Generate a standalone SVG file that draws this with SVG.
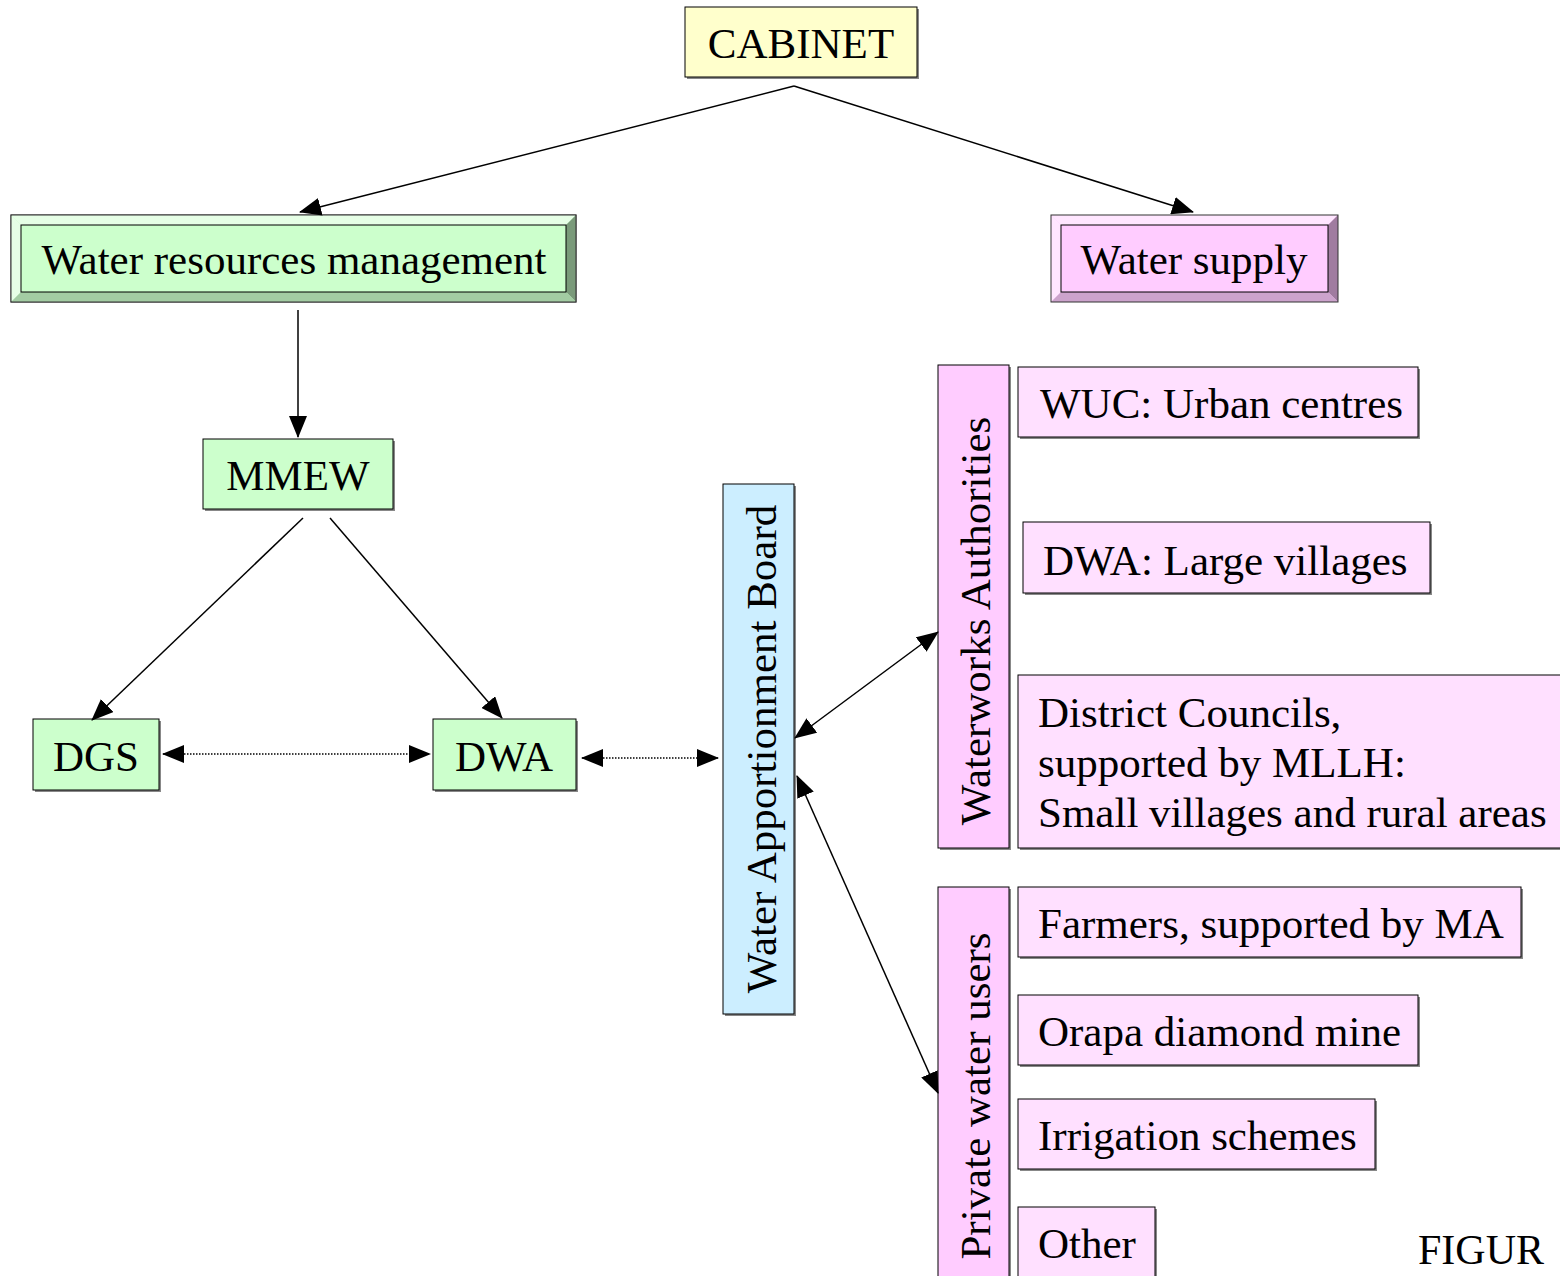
<svg xmlns="http://www.w3.org/2000/svg" width="1560" height="1276" viewBox="0 0 1560 1276">
<style>
text{font-family:"Liberation Serif","Times New Roman",serif;font-size:43px;fill:#000}
.c{text-anchor:middle}
.box{stroke:#000;stroke-width:1}
.sh{fill:#888}
.ln{stroke:#000;stroke-width:1.5;fill:none}
.dot{stroke:#000;stroke-width:1.5;fill:none;stroke-dasharray:1.5 1.5}
</style>
<defs>
<marker id="ah" markerWidth="22" markerHeight="18" refX="21" refY="9" orient="auto-start-reverse" markerUnits="userSpaceOnUse">
<path d="M0,0 L22,9 L0,18 z" fill="#000"/>
</marker>
</defs>
<rect width="1560" height="1276" fill="#fff"/>

<g id="cabinet">
<rect x="687" y="9" width="232" height="70" class="sh"/>
<rect x="685" y="7" width="232" height="70" fill="#ffffcc" class="box"/>
<text x="801" y="58" class="c">CABINET</text>
</g>

<g id="wrm">
<rect x="11" y="215" width="565" height="87" fill="#ccffcc" stroke="#333" stroke-width="1"/>
<polygon points="11,215 576,215 566,225 21,225" fill="#e6ffe6"/>
<polygon points="11,215 21,225 21,292 11,302" fill="#e6ffe6"/>
<polygon points="576,215 576,302 566,292 566,225" fill="#7a9a7a"/>
<polygon points="11,302 576,302 566,292 21,292" fill="#a3cca3"/>
<rect x="11" y="215" width="565" height="87" fill="none" stroke="#333" stroke-width="1"/>
<rect x="21" y="225" width="545" height="67" fill="none" stroke="#000" stroke-width="1"/>
<text x="294" y="274" class="c">Water resources management</text>
</g>

<g id="supply">
<rect x="1051" y="215" width="287" height="87" fill="#ffccff"/>
<polygon points="1051,215 1338,215 1328,225 1061,225" fill="#ffe6ff"/>
<polygon points="1051,215 1061,225 1061,292 1051,302" fill="#ffe6ff"/>
<polygon points="1338,215 1338,302 1328,292 1328,225" fill="#a07ca0"/>
<polygon points="1051,302 1338,302 1328,292 1061,292" fill="#cca3cc"/>
<rect x="1051" y="215" width="287" height="87" fill="none" stroke="#333" stroke-width="1"/>
<rect x="1061" y="225" width="267" height="67" fill="none" stroke="#000" stroke-width="1"/>
<text x="1194" y="274" class="c">Water supply</text>
</g>

<g id="mmew">
<rect x="205" y="441" width="190" height="70" class="sh"/>
<rect x="203" y="439" width="190" height="70" fill="#ccffcc" class="box"/>
<text x="298" y="490" class="c">MMEW</text>
</g>

<g id="dgs">
<rect x="35" y="721" width="126" height="71" class="sh"/>
<rect x="33" y="719" width="126" height="71" fill="#ccffcc" class="box"/>
<text x="96" y="771" class="c">DGS</text>
</g>

<g id="dwa">
<rect x="435" y="721" width="143" height="71" class="sh"/>
<rect x="433" y="719" width="143" height="71" fill="#ccffcc" class="box"/>
<text x="504" y="771" class="c">DWA</text>
</g>

<g id="wab">
<rect x="725" y="486" width="71" height="530" class="sh"/>
<rect x="723" y="484" width="71" height="530" fill="#cceeff" class="box"/>
<text transform="translate(776,749) rotate(-90)" class="c">Water Apportionment Board</text>
</g>

<g id="waterworks">
<rect x="940" y="367" width="71" height="483" class="sh"/>
<rect x="938" y="365" width="71" height="483" fill="#ffccff" class="box"/>
<text transform="translate(990,621) rotate(-90)" class="c">Waterworks Authorities</text>
</g>

<g id="wuc">
<rect x="1020" y="369" width="400" height="70" class="sh"/>
<rect x="1018" y="367" width="400" height="70" fill="#ffe0ff" class="box"/>
<text x="1040" y="418">WUC: Urban centres</text>
</g>

<g id="dwa-large">
<rect x="1025" y="524" width="407" height="71" class="sh"/>
<rect x="1023" y="522" width="407" height="71" fill="#ffe0ff" class="box"/>
<text x="1043" y="575">DWA: Large villages</text>
</g>

<g id="district">
<rect x="1020" y="677" width="545" height="173" class="sh"/>
<rect x="1018" y="675" width="545" height="173" fill="#ffe0ff" class="box"/>
<text x="1038" y="727">District Councils,</text>
<text x="1038" y="777">supported by MLLH:</text>
<text x="1038" y="827">Small villages and rural areas</text>
</g>

<g id="private">
<rect x="940" y="889" width="71" height="400" class="sh"/>
<rect x="938" y="887" width="71" height="400" fill="#ffccff" class="box"/>
<text transform="translate(990,1096) rotate(-90)" class="c">Private water users</text>
</g>

<g id="farmers">
<rect x="1020" y="889" width="503" height="70" class="sh"/>
<rect x="1018" y="887" width="503" height="70" fill="#ffe0ff" class="box"/>
<text x="1038" y="938">Farmers, supported by MA</text>
</g>

<g id="orapa">
<rect x="1020" y="997" width="400" height="70" class="sh"/>
<rect x="1018" y="995" width="400" height="70" fill="#ffe0ff" class="box"/>
<text x="1038" y="1046">Orapa diamond mine</text>
</g>

<g id="irrigation">
<rect x="1020" y="1101" width="357" height="70" class="sh"/>
<rect x="1018" y="1099" width="357" height="70" fill="#ffe0ff" class="box"/>
<text x="1038" y="1150">Irrigation schemes</text>
</g>

<g id="other">
<rect x="1020" y="1209" width="137" height="80" class="sh"/>
<rect x="1018" y="1207" width="137" height="80" fill="#ffe0ff" class="box"/>
<text x="1038" y="1258">Other</text>
</g>

<text x="1418" y="1264" style="font-size:42px">FIGUR</text>

<g id="connectors">
<path d="M794,86 L300,212" class="ln" marker-end="url(#ah)"/>
<path d="M794,86 L1193,212" class="ln" marker-end="url(#ah)"/>
<path d="M298,310 L298,437" class="ln" marker-end="url(#ah)"/>
<path d="M303,518 L92,720" class="ln" marker-end="url(#ah)"/>
<path d="M330,518 L502,718" class="ln" marker-end="url(#ah)"/>
<path d="M163,754 L430,754" class="dot" marker-start="url(#ah)" marker-end="url(#ah)"/>
<path d="M582,758 L718,758" class="dot" marker-start="url(#ah)" marker-end="url(#ah)"/>
<path d="M795,738 L938,632" class="ln" marker-start="url(#ah)" marker-end="url(#ah)"/>
<path d="M797,776 L938,1093" class="ln" marker-start="url(#ah)" marker-end="url(#ah)"/>
</g>
</svg>
